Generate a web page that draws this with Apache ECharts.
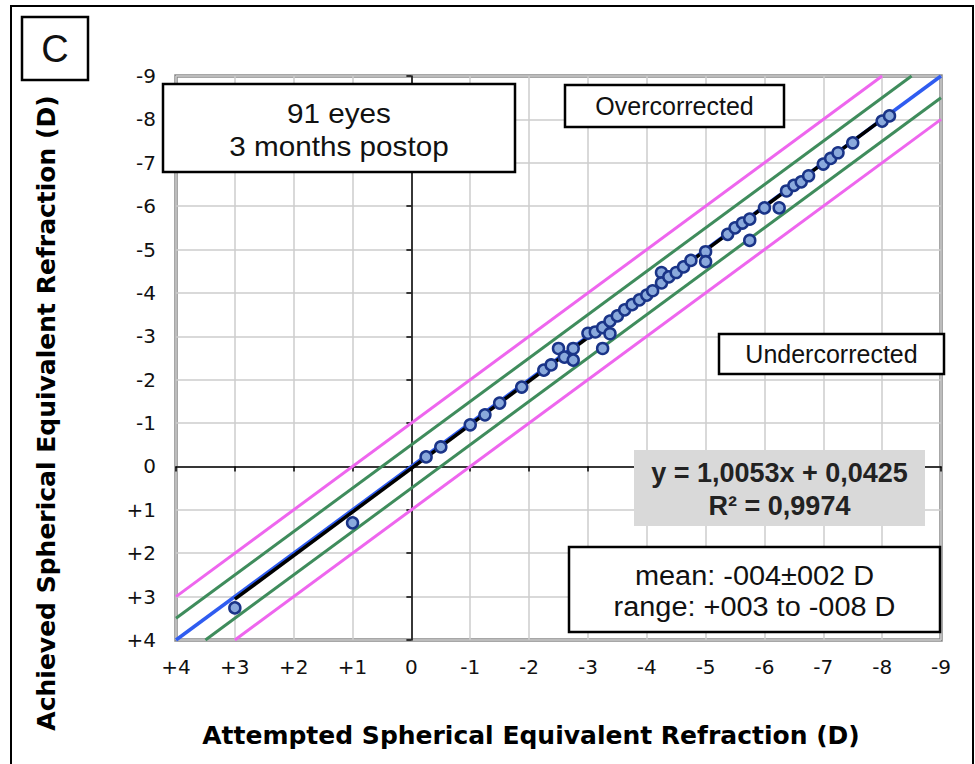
<!DOCTYPE html>
<html>
<head>
<meta charset="utf-8">
<script src="https://cdn.jsdelivr.net/npm/echarts@6/dist/echarts.min.js"></script>
<style>
  html, body { margin: 0; padding: 0; background: #fff; }
  #chart { width: 975px; height: 764px; }
</style>
</head>
<body>
<div id="chart"></div>
<script>
// attempted (x) vs achieved (y) spherical equivalent, dioptres
const attempted = [3, 1, -0.25, -0.5, -1, -1.25, -1.5, -1.875, -2.25, -2.375,
  -2.5, -2.6, -2.75, -2.75, -3, -3.125, -3.25, -3.25, -3.375, -3.375,
  -3.5, -3.625, -3.75, -3.875, -4, -4.1, -4.25, -4.25, -4.375, -4.5,
  -4.625, -4.75, -5, -5, -5.375, -5.5, -5.625, -5.75, -5.75, -6,
  -6.25, -6.375, -6.5, -6.625, -6.75, -7, -7.125, -7.25, -7.5, -8, -8.125]
const achieved = [3.26, 1.3, -0.22, -0.45, -0.96, -1.19, -1.46, -1.83, -2.22, -2.34,
  -2.72, -2.52, -2.72, -2.45, -3.07, -3.1, -2.72, -3.2, -3.35, -3.06,
  -3.47, -3.61, -3.73, -3.84, -3.95, -4.05, -4.47, -4.23, -4.37, -4.47,
  -4.6, -4.75, -4.95, -4.72, -5.35, -5.5, -5.61, -5.7, -5.21, -5.96,
  -5.96, -6.35, -6.48, -6.56, -6.7, -6.97, -7.1, -7.23, -7.46, -7.96, -8.08]

// reference lines (endpoints)
const idealLine = [[4, 4], [-9, -9]]
const greenUpper = [[4, 3.5], [-8.5, -9]]
const greenLower = [[3.5, 4], [-9, -8.5]]
const magentaUpper = [[4, 3], [-8, -9]]
const magentaLower = [[3, 4], [-9, -8]]
const fitLine = [[3, 3.06], [-8.15, -8.15]]

const axisMin = -9
const axisMax = 4

const points = attempted.map((v, i) => [v, achieved[i]])

const fmt = (v) => (v > 0 ? '+' + v : String(v))

const my_echart = echarts.init(document.getElementById('chart'), null, {renderer: 'svg'})

function lineSeries(data, color, width) {
  return {
    type: 'line',
    data: data,
    symbol: 'none',
    silent: true,
    lineStyle: {color: color, width: width || 3},
  }
}

function box(x, y, w, h, lines, opts) {
  opts = opts || {}
  const children = [{
    type: 'rect',
    z: 100,
    shape: {x: x, y: y, width: w, height: h},
    style: {fill: opts.fill || '#fff', stroke: opts.stroke === undefined ? '#000' : opts.stroke, lineWidth: 2.5},
  }]
  lines.forEach((t, i) => {
    children.push({
      type: 'text',
      z: 101,
      x: x + w / 2,
      y: opts.ys ? opts.ys[i] : y + h / 2,
      scaleX: opts.scaleX || 1,
      style: {
        text: t,
        textAlign: 'center',
        textVerticalAlign: 'middle',
        font: (opts.weight || 'normal') + ' ' + (opts.size || 24) + 'px "Liberation Sans", Arial, sans-serif',
        fill: opts.color || '#111',
      },
    })
  })
  return {type: 'group', z: 100, children: children}
}

my_echart.setOption({
  animation: false,
  backgroundColor: '#fff',
  grid: {
    left: 176, right: 34, top: 76, bottom: 124,
    show: true, borderColor: '#8a8a8a', borderWidth: 3.5,
  },
  xAxis: [
    {
      type: 'value', min: axisMin, max: axisMax, interval: 1, inverse: true,
      axisLine: {show: false, onZero: false},
      axisTick: {show: false},
      splitLine: {lineStyle: {color: '#cdcdcd', width: 1.5}},
      axisLabel: {formatter: fmt, fontSize: 20, color: '#111', margin: 17, fontFamily: 'DejaVu Sans'},
    },
    {
      type: 'value', min: axisMin, max: axisMax, interval: 1, inverse: true, position: 'bottom',
      axisLine: {onZero: true, lineStyle: {color: '#000', width: 1.5}},
      axisTick: {length: 5, lineStyle: {color: '#000', width: 1.5}},
      axisLabel: {show: false},
      splitLine: {show: false},
    },
  ],
  yAxis: [
    {
      type: 'value', min: axisMin, max: axisMax, interval: 1, inverse: true,
      axisLine: {show: false, onZero: false},
      axisTick: {show: false},
      splitLine: {lineStyle: {color: '#cdcdcd', width: 1.5}},
      axisLabel: {formatter: fmt, fontSize: 20, color: '#111', margin: 20, fontFamily: 'DejaVu Sans'},
    },
    {
      type: 'value', min: axisMin, max: axisMax, interval: 1, inverse: true, position: 'left',
      axisLine: {onZero: true, lineStyle: {color: '#000', width: 1.5}},
      axisTick: {length: 5, lineStyle: {color: '#000', width: 1.5}},
      axisLabel: {show: false},
      splitLine: {show: false},
    },
  ],
  series: [
    lineSeries(magentaUpper, '#ee66ee'),
    lineSeries(magentaLower, '#ee66ee'),
    lineSeries(greenUpper, '#3f8c5c'),
    lineSeries(greenLower, '#3f8c5c'),
    lineSeries(idealLine, '#2f5cf0', 3.5),
    lineSeries(fitLine, '#000', 3.5),
    {
      type: 'scatter',
      data: points,
      symbolSize: 11,
      itemStyle: {color: '#8aa9dc', borderColor: '#1a3488', borderWidth: 2.5, opacity: 1},
      z: 10,
    },
  ],
  graphic: [
    // outer frame
    {type: 'rect', z: 0, silent: true, shape: {x: 11, y: 6, width: 962, height: 780},
      style: {fill: 'none', stroke: '#000', lineWidth: 2}},
    box(22, 17, 66, 63, ['C'], {size: 38}),
    box(163, 84, 352, 88, ['91 eyes', '3 months postop'], {size: 28, scaleX: 1.06, ys: [113, 146]}),
    box(565, 85, 219, 42, ['Overcorrected'], {size: 25}),
    box(719, 334, 225, 40, ['Undercorrected'], {size: 25}),
    box(634, 450, 291, 76, ['y = 1,0053x + 0,0425', 'R² = 0,9974'],
      {size: 27, weight: 'bold', fill: '#d9d9d9', stroke: 'none', color: '#222', ys: [473, 506]}),
    box(569, 547, 371, 85, ['mean: -004±002 D', 'range: +003 to -008 D'], {size: 27, scaleX: 1.07, ys: [576, 607]}),
    {
      type: 'text', z: 100,
      x: 46, y: 413, rotation: Math.PI / 2,
      style: {
        text: 'Achieved Spherical Equivalent Refraction (D)',
        textAlign: 'center', textVerticalAlign: 'middle',
        font: 'bold 25px "DejaVu Sans", Verdana, sans-serif', fill: '#000',
      },
    },
    {
      type: 'text', z: 100,
      x: 531, y: 735,
      style: {
        text: 'Attempted Spherical Equivalent Refraction (D)',
        textAlign: 'center', textVerticalAlign: 'middle',
        font: 'bold 25px "DejaVu Sans", Verdana, sans-serif', fill: '#000',
      },
    },
  ],
})
</script>
</body>
</html>
